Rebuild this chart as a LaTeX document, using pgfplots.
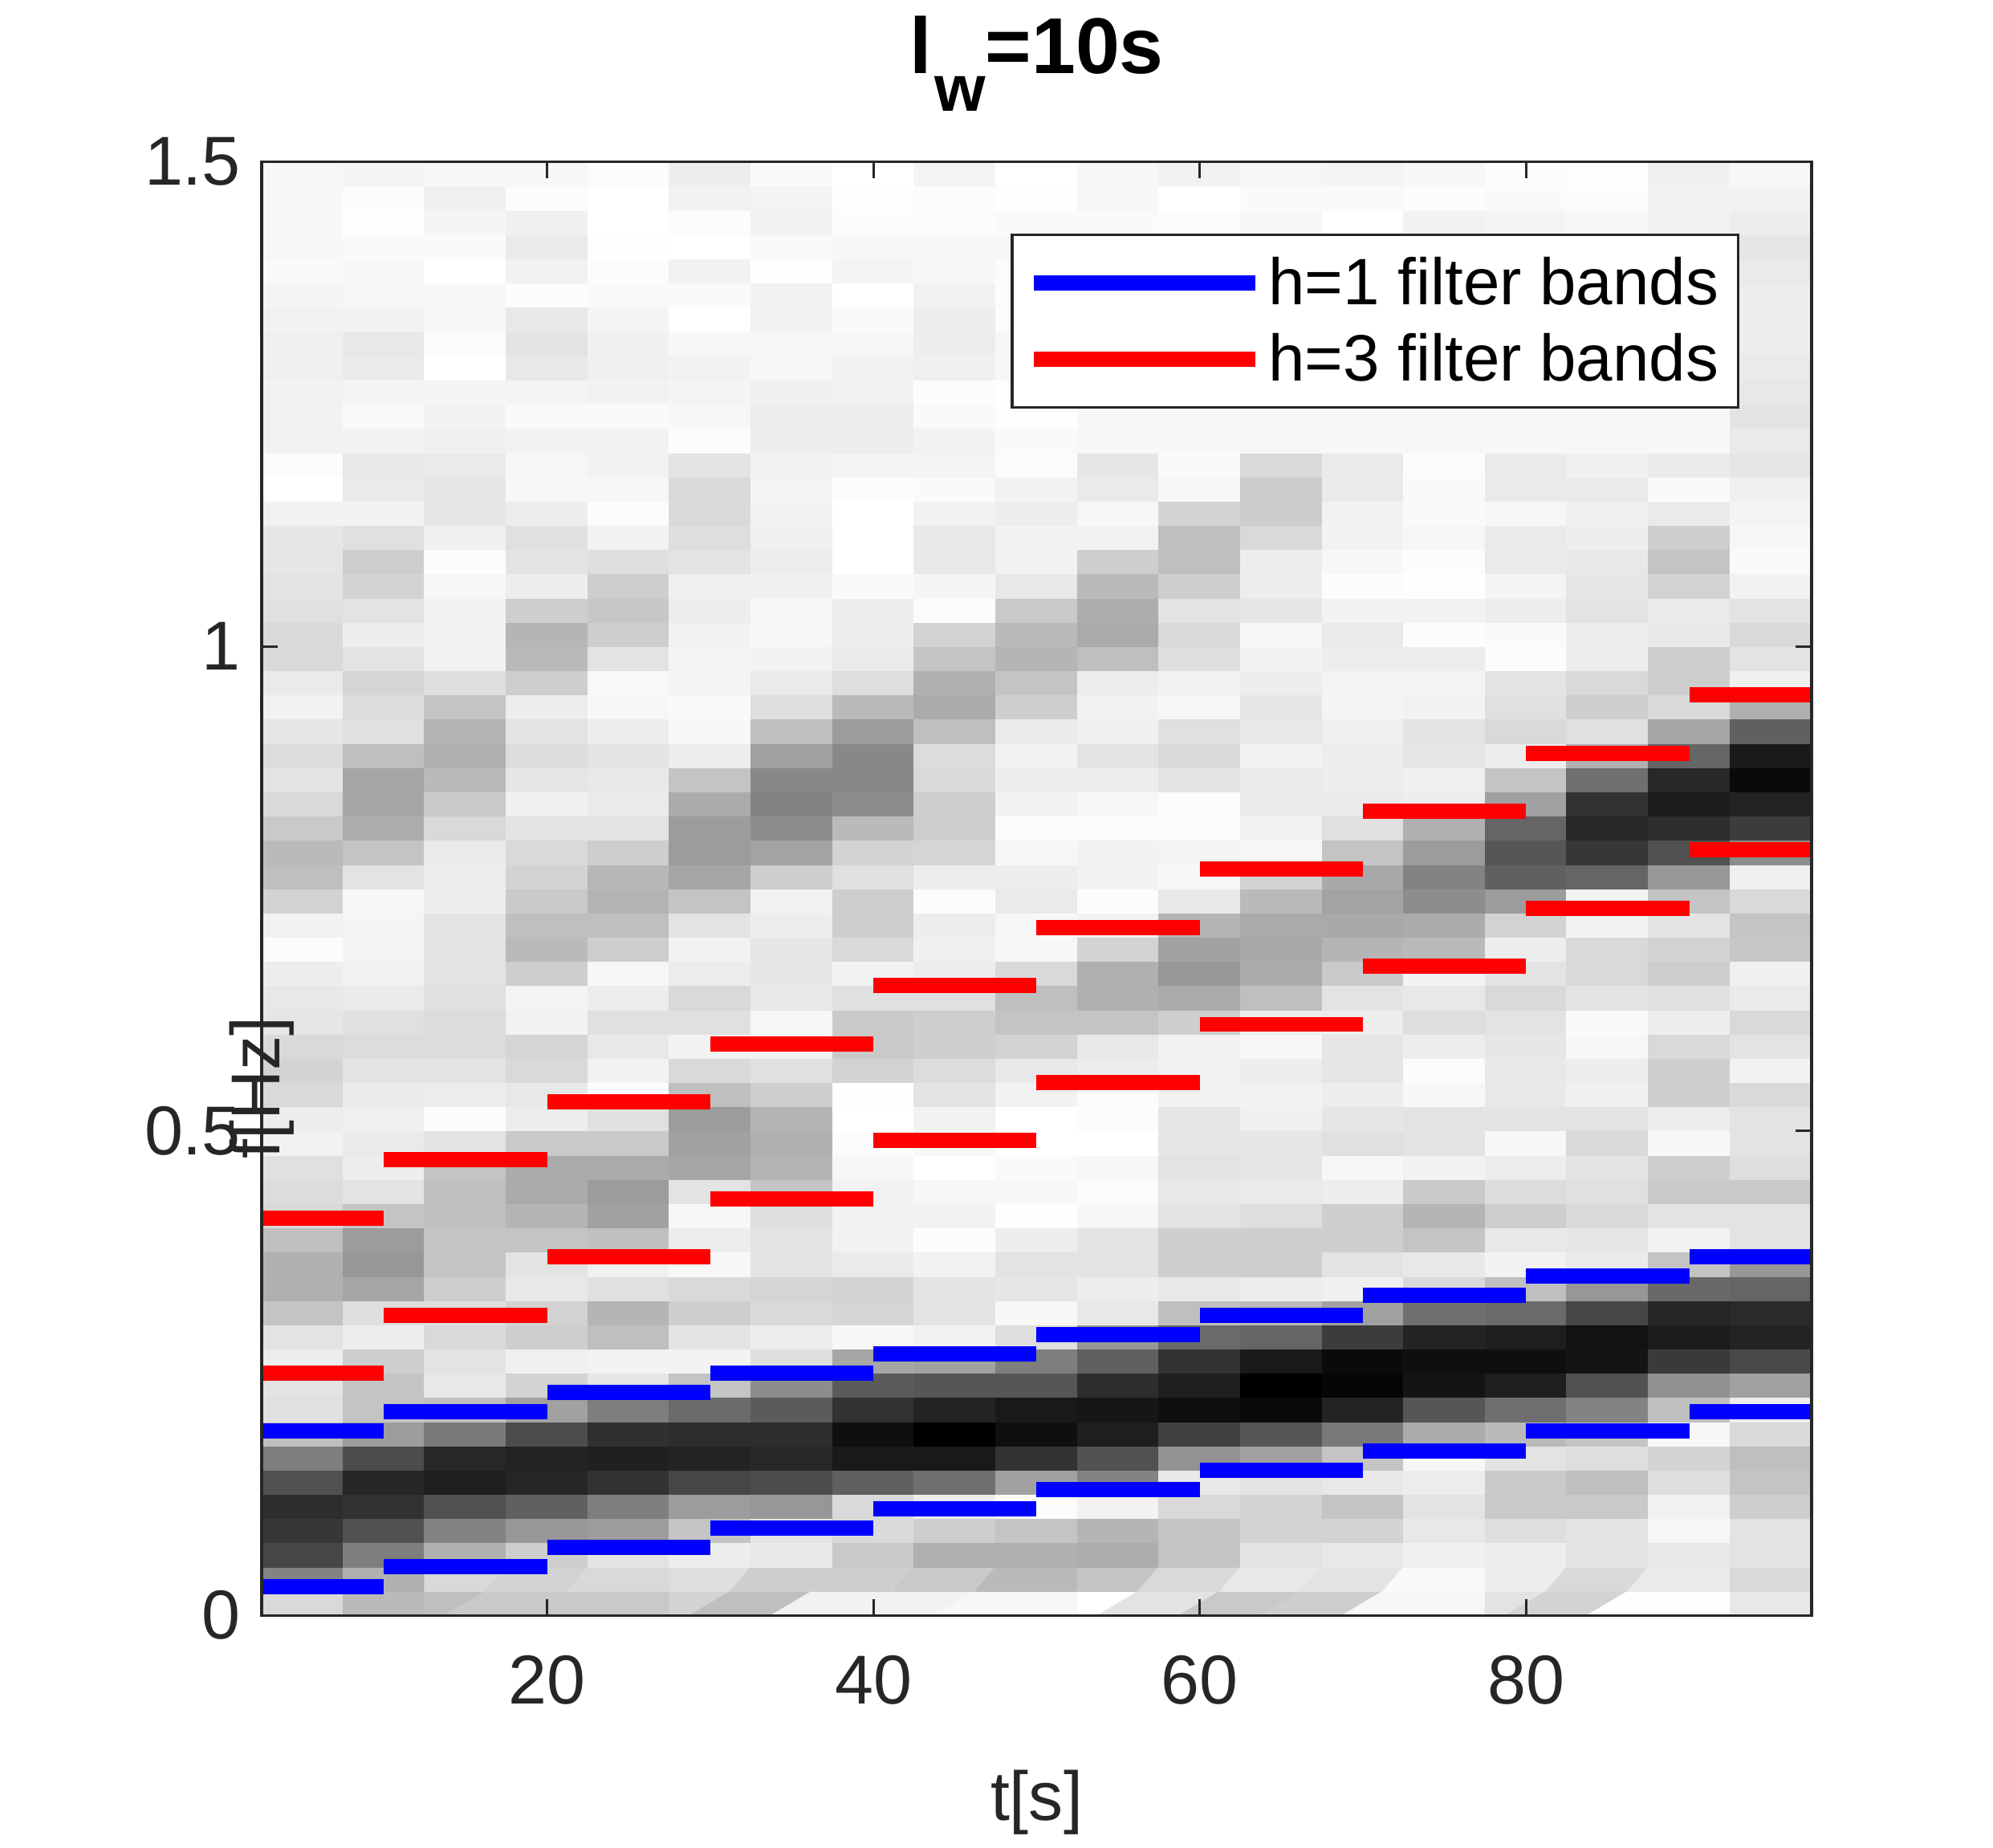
\documentclass[border=0pt]{standalone}
\usepackage{pgfplots}
\pgfplotsset{compat=1.18}
\usepackage{fontspec}
\setmainfont{Liberation Sans}
\definecolor{axc}{HTML}{262626}
\begin{document}
\begin{tikzpicture}
\useasboundingbox (-94.5pt,-83.8pt) rectangle (625.5pt,583.5pt);
\begin{axis}[
  at={(0pt,0pt)}, anchor=south west,
  scale only axis, width=560pt, height=525pt,
  xmin=2.5, xmax=97.5, ymin=0, ymax=1.5,
  xtick={20,40,60,80}, ytick={0,0.5,1,1.5},
  xticklabels={20,40,60,80}, yticklabels={0,0.5,1,1.5},
  tick align=inside, tick pos=both, major tick length=5.8pt,
  every tick/.style={axc, line width=0.9pt},
  axis line style={axc, line width=1pt},
  tick label style={font=\fontsize{25}{25}\selectfont, text=axc},
  xticklabel style={yshift=-11pt},
  yticklabel style={xshift=-4pt},
  /pgf/number format/assume math mode=true,
  xlabel={t[s]}, ylabel={f[Hz]},
  label style={font=\fontsize{25}{25}\selectfont, text=axc},
  xlabel style={at={(axis description cs:0.5,0)}, anchor=center, yshift=-67.6pt},
  ylabel style={at={(axis description cs:0,0.5)}, anchor=center, xshift=-72pt, rotate=0},
  title={\textbf{l\hspace{1pt}\raisebox{-13.8pt}{\fontsize{23.7}{24}\selectfont w}=10s}},
  title style={font=\fontsize{28.6}{29}\selectfont, at={(axis description cs:0.5,1)}, anchor=base, yshift=26pt},
  colormap/blackwhite, point meta min=0, point meta max=255,
  unbounded coords=jump,
  legend style={at={(0.9534,0.9508)}, anchor=north east, draw=axc, line width=1pt, fill=white,
    font=\fontsize{23.7}{24}\selectfont, row sep=5pt, inner xsep=5pt, inner ysep=6pt,
    /tikz/every odd column/.style={}},
  legend cell align=left,
  legend image code/.code={\draw[#1, line width=5.5pt] (0pt,0pt) -- (80pt,0pt);},
  axis on top,
]
\addplot[matrix plot*, forget plot, point meta=explicit, mesh/rows=60, mesh/cols=19, mesh/ordering=y varies]
 table[row sep=\\, header=false, meta index=0, x expr={5+5*floor(\coordindex/60)}, y expr={0.0125+0.025*mod(\coordindex,60)}] {
215\\130\\70\\55\\45\\80\\125\\190\\222\\225\\235\\225\\195\\175\\175\\190\\215\\218\\222\\240\\235\\215\\210\\215\\228\\230\\235\\250\\240\\210\\190\\185\\200\\215\\225\\218\\228\\240\\232\\215\\215\\222\\225\\228\\228\\240\\255\\250\\240\\240\\240\\238\\238\\240\\242\\248\\245\\245\\245\\245\\
185\\175\\125\\80\\50\\38\\75\\155\\195\\195\\205\\235\\220\\165\\150\\155\\195\\225\\235\\232\\238\\232\\225\\218\\222\\232\\240\\243\\243\\245\\225\\195\\172\\165\\165\\190\\222\\218\\212\\225\\235\\225\\210\\205\\222\\240\\232\\230\\240\\248\\242\\232\\230\\240\\245\\245\\248\\252\\250\\243\\
190\\215\\175\\130\\80\\30\\40\\120\\190\\230\\225\\215\\220\\205\\195\\195\\190\\190\\195\\225\\250\\235\\225\\218\\218\\222\\225\\225\\225\\235\\235\\232\\215\\200\\185\\175\\180\\195\\220\\240\\240\\240\\245\\250\\238\\228\\228\\232\\238\\240\\243\\255\\250\\245\\245\\255\\248\\243\\238\\245\\
200\\210\\205\\150\\95\\38\\35\\75\\160\\210\\238\\205\\210\\230\\225\\195\\180\\170\\170\\200\\235\\230\\215\\212\\240\\242\\205\\185\\190\\200\\210\\215\\225\\238\\228\\218\\225\\235\\205\\185\\180\\205\\235\\225\\222\\235\\245\\245\\240\\248\\242\\230\\225\\230\\250\\240\\232\\238\\250\\245\\
200\\215\\225\\155\\125\\50\\32\\48\\125\\228\\240\\190\\180\\222\\238\\190\\160\\155\\170\\200\\222\\250\\240\\230\\222\\235\\245\\205\\190\\178\\182\\205\\225\\232\\230\\226\\235\\245\\246\\225\\205\\198\\205\\220\\240\\250\\245\\240\\240\\248\\240\\238\\238\\242\\248\\250\\252\\255\\255\\250\\
210\\220\\235\\195\\155\\70\\35\\45\\105\\195\\240\\225\\205\\215\\245\\235\\245\\225\\165\\160\\155\\190\\215\\240\\222\\215\\235\\240\\225\\195\\165\\155\\155\\170\\195\\235\\245\\247\\242\\242\\240\\235\\238\\225\\220\\215\\215\\225\\250\\245\\242\\240\\245\\255\\248\\240\\255\\250\\240\\236\\
190\\205\\230\\225\\150\\75\\40\\45\\90\\140\\220\\235\\215\\212\\225\\225\\220\\195\\180\\175\\180\\205\\222\\240\\245\\230\\228\\228\\235\\240\\205\\162\\140\\130\\135\\160\\190\\220\\232\\240\\245\\245\\238\\235\\238\\240\\242\\240\\235\\235\\238\\245\\245\\240\\240\\252\\248\\240\\242\\248\\
240\\205\\200\\215\\215\\95\\25\\15\\50\\90\\165\\245\\212\\210\\232\\240\\240\\240\\245\\250\\255\\252\\210\\200\\200\\222\\240\\215\\205\\205\\222\\210\\185\\140\\135\\135\\155\\185\\220\\232\\235\\235\\248\\255\\255\\255\\250\\242\\235\\235\\240\\240\\245\\248\\255\\242\\245\\250\\252\\255\\
240\\200\\175\\205\\235\\110\\25\\0\\35\\85\\160\\240\\225\\225\\240\\250\\240\\245\\255\\245\\240\\225\\218\\205\\205\\222\\235\\238\\235\\250\\235\\212\\205\\205\\215\\218\\190\\170\\175\\195\\210\\250\\243\\230\\230\\240\\248\\242\\240\\248\\250\\238\\235\\235\\240\\245\\245\\250\\250\\242\\
245\\185\\175\\195\\250\\160\\50\\15\\25\\85\\125\\220\\245\\228\\225\\235\\252\\245\\248\\255\\255\\240\\230\\210\\195\\190\\215\\245\\245\\232\\235\\245\\250\\240\\235\\240\\232\\205\\195\\180\\185\\200\\230\\240\\240\\235\\240\\250\\248\\252\\252\\245\\245\\250\\250\\250\\245\\248\\252\\255\\
255\\195\\172\\180\\240\\130\\80\\30\\22\\45\\95\\150\\230\\235\\225\\225\\245\\250\\245\\255\\250\\250\\235\\230\\195\\175\\175\\210\\240\\250\\240\\240\\250\\245\\235\\225\\238\\240\\235\\190\\170\\172\\185\\205\\240\\245\\232\\228\\245\\245\\245\\245\\245\\245\\245\\245\\245\\248\\245\\245\\
225\\215\\195\\195\\215\\230\\145\\65\\15\\30\\50\\105\\190\\230\\205\\205\\225\\230\\225\\228\\228\\240\\240\\240\\205\\170\\150\\160\\180\\230\\245\\242\\250\\250\\225\\215\\222\\245\\240\\220\\215\\225\\205\\190\\190\\210\\245\\248\\245\\245\\245\\245\\245\\245\\245\\245\\245\\250\\255\\240\\
200\\230\\225\\210\\210\\225\\160\\85\\10\\0\\25\\100\\185\\235\\205\\205\\220\\232\\228\\228\\238\\240\\235\\245\\235\\190\\170\\168\\170\\185\\210\\245\\240\\232\\232\\240\\230\\228\\235\\240\\245\\228\\235\\235\\215\\203\\203\\215\\245\\245\\245\\245\\245\\245\\245\\245\\245\\245\\248\\245\\
205\\225\\230\\210\\195\\230\\195\\120\\35\\5\\10\\60\\160\\238\\225\\205\\205\\235\\245\\222\\228\\235\\228\\228\\235\\225\\200\\180\\168\\162\\168\\195\\222\\232\\235\\235\\238\\242\\242\\235\\232\\240\\250\\245\\240\\240\\232\\232\\245\\245\\245\\245\\245\\245\\245\\245\\245\\255\\248\\242\\
245\\248\\238\\230\\225\\235\\245\\170\\85\\20\\15\\35\\110\\215\\230\\195\\180\\200\\240\\225\\225\\245\\250\\235\\220\\230\\240\\185\\170\\140\\130\\155\\175\\235\\238\\228\\225\\240\\242\\235\\250\\240\\252\\250\\245\\248\\248\\250\\245\\245\\245\\245\\245\\245\\245\\245\\245\\240\\250\\245\\
225\\235\\235\\220\\200\\200\\225\\185\\110\\30\\15\\30\\105\\190\\240\\230\\205\\218\\235\\245\\225\\230\\230\\228\\225\\215\\225\\235\\210\\155\\95\\85\\100\\160\\195\\235\\215\\222\\225\\250\\248\\235\\242\\232\\232\\245\\232\\232\\245\\245\\245\\245\\245\\245\\245\\245\\245\\242\\248\\250\\
210\\215\\225\\225\\200\\190\\220\\195\\130\\80\\20\\18\\70\\150\\232\\228\\215\\222\\225\\215\\225\\238\\235\\245\\248\\225\\215\\215\\240\\240\\100\\55\\40\\50\\110\\175\\222\\205\\215\\235\\236\\225\\228\\230\\236\\238\\232\\238\\245\\245\\245\\245\\245\\245\\245\\245\\245\\245\\250\\252\\
252\\232\\230\\245\\240\\220\\210\\245\\190\\144\\58\\28\\38\\104\\195\\240\\225\\200\\205\\245\\235\\205\\205\\215\\235\\222\\205\\210\\225\\195\\150\\80\\45\\28\\40\\100\\165\\215\\205\\205\\230\\232\\210\\195\\205\\232\\248\\232\\245\\245\\245\\245\\245\\245\\245\\245\\245\\240\\240\\238\\
230\\215\\225\\225\\205\\195\\190\\215\\235\\160\\72\\35\\42\\100\\150\\225\\225\\200\\220\\225\\225\\215\\240\\225\\215\\232\\238\\198\\195\\215\\238\\140\\60\\35\\10\\25\\95\\175\\238\\225\\215\\225\\240\\248\\245\\242\\238\\228\\232\\225\\230\\232\\235\\235\\235\\232\\228\\235\\240\\245\\
};
\addplot[blue, line width=5.5pt, line cap=butt] coordinates {
(2.5,0.03)(10,0.03)(10,nan)(2.5,0.19)(10,0.19)(10,nan)
(10,0.05)(20,0.05)(20,nan)(10,0.21)(20,0.21)(20,nan)
(20,0.07)(30,0.07)(30,nan)(20,0.23)(30,0.23)(30,nan)
(30,0.09)(40,0.09)(40,nan)(30,0.25)(40,0.25)(40,nan)
(40,0.11)(50,0.11)(50,nan)(40,0.27)(50,0.27)(50,nan)
(50,0.13)(60,0.13)(60,nan)(50,0.29)(60,0.29)(60,nan)
(60,0.15)(70,0.15)(70,nan)(60,0.31)(70,0.31)(70,nan)
(70,0.17)(80,0.17)(80,nan)(70,0.33)(80,0.33)(80,nan)
(80,0.19)(90,0.19)(90,nan)(80,0.35)(90,0.35)(90,nan)
(90,0.21)(97.5,0.21)(97.5,nan)(90,0.37)(97.5,0.37)
};
\addlegendentry{h=1 filter bands}
\addplot[red, line width=5.5pt, line cap=butt] coordinates {
(2.5,0.25)(10,0.25)(10,nan)(2.5,0.41)(10,0.41)(10,nan)
(10,0.31)(20,0.31)(20,nan)(10,0.47)(20,0.47)(20,nan)
(20,0.37)(30,0.37)(30,nan)(20,0.53)(30,0.53)(30,nan)
(30,0.43)(40,0.43)(40,nan)(30,0.59)(40,0.59)(40,nan)
(40,0.49)(50,0.49)(50,nan)(40,0.65)(50,0.65)(50,nan)
(50,0.55)(60,0.55)(60,nan)(50,0.71)(60,0.71)(60,nan)
(60,0.61)(70,0.61)(70,nan)(60,0.77)(70,0.77)(70,nan)
(70,0.67)(80,0.67)(80,nan)(70,0.83)(80,0.83)(80,nan)
(80,0.73)(90,0.73)(90,nan)(80,0.89)(90,0.89)(90,nan)
(90,0.79)(97.5,0.79)(97.5,nan)(90,0.95)(97.5,0.95)
};
\addlegendentry{h=3 filter bands}
\end{axis}
\end{tikzpicture}
\end{document}
